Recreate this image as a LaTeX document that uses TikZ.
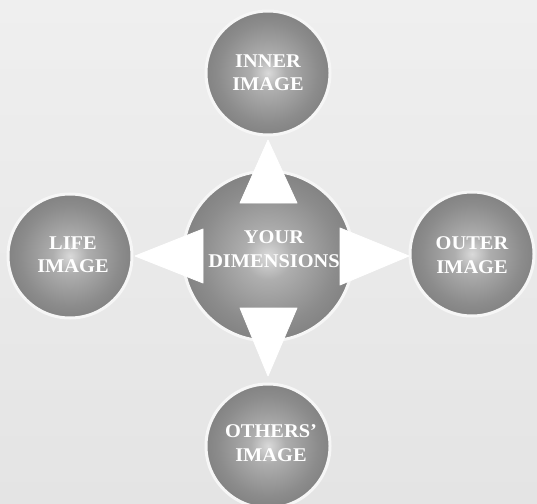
\documentclass[tikz,border=0pt]{standalone}
\usepackage{fontspec}
\newfontfamily\lblfont[FakeStretch=1.05]{Liberation Serif}
\usetikzlibrary{calc}
\definecolor{bgA}{HTML}{EFEFEF}
\definecolor{bgB}{HTML}{E4E4E4}
\definecolor{ballA}{HTML}{DADADA}
\definecolor{ballB}{HTML}{AEAEAE}
\definecolor{ballC}{HTML}{8C8C8C}
\definecolor{ballD}{HTML}{6B6B6B}
\definecolor{ballE}{HTML}{474747}
\definecolor{rim}{HTML}{F6F6F6}
\pgfdeclareradialshading{ball}{\pgfpoint{0bp}{0bp}}{color(0bp)=(ballA); color(7bp)=(ballB); color(20bp)=(ballC); color(38bp)=(ballD); color(50bp)=(ballE)}
\tikzset{
  sphere/.style={circle, inner sep=0pt, shading=ball, draw=rim, line width=3bp},
  lbl/.style={text=white, align=center, font=\lblfont\bfseries\fontsize{19.5}{23.5}\selectfont, inner sep=0pt},
  pointer/.style={fill=white, draw=white, line width=0.8bp, line join=round}
}
\begin{document}
\begin{tikzpicture}[x=1bp, y=-1bp]
  \shade[top color=bgA, bottom color=bgB] (0,0) rectangle (537,504);
  \useasboundingbox (0,0) rectangle (537,504);
  % spheres
  \node[sphere, minimum size=170bp] (c) at (268,256) {};
  \node[sphere, minimum size=124bp] (inner) at (268,73) {};
  \node[sphere, minimum size=124bp] (life) at (70,256) {};
  \node[sphere, minimum size=124bp] (outer) at (472,254) {};
  \node[sphere, minimum size=124bp] (others) at (268,446) {};
  % pointers
  \fill[pointer] ($(c)+(0,-116)$) -- ($(c)+(-28,-53)$) -- ($(c)+(29,-53)$) -- cycle;
  \fill[pointer] ($(c)+(0,120)$) -- ($(c)+(-28,52)$) -- ($(c)+(29,52)$) -- cycle;
  \fill[pointer] ($(c)+(-133,0)$) -- ($(c)+(-65,-27)$) -- ($(c)+(-65,27)$) -- cycle;
  \fill[pointer] ($(c)+(141,0)$) -- ($(c)+(72,-28)$) -- ($(c)+(72,29)$) -- cycle;
  % labels
  \node[lbl] (tc) at (274,249) {YOUR\\DIMENSIONS};
  \node[lbl] (ti) at (268,73) {INNER\\IMAGE};
  \node[lbl] (tl) at (73,255) {LIFE\\IMAGE};
  \node[lbl] (to) at (472,255) {OUTER\\IMAGE};
  \node[lbl] (tb) at (271,443) {OTHERS’\\IMAGE};
\end{tikzpicture}
\end{document}
